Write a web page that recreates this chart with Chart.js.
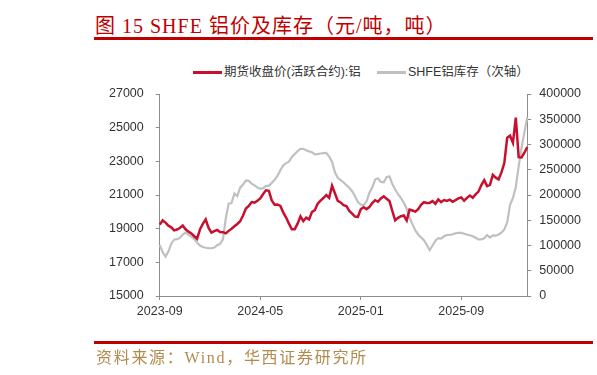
<!DOCTYPE html>
<html>
<head>
<meta charset="utf-8">
<script src="https://cdn.jsdelivr.net/npm/chart.js@4.4.0/dist/chart.umd.min.js"></script>
<style>
  body { margin: 0; width: 597px; height: 375px; position: relative; background: #fff; overflow: hidden; }
  #title { position: absolute; left: 95px; top: 10px; font-size: 20px; font-family: "Liberation Serif", "Noto Sans CJK SC"; color: #c00000; white-space: nowrap; letter-spacing: 1px; }
  .rule { position: absolute; left: 94px; width: 499px; background: #c00000; }
  .leg { position: absolute; top: 64px; height: 16px; line-height: 16px; font-size: 12.5px; font-family: "Liberation Sans", "Noto Sans CJK SC"; color: #333; white-space: nowrap; }
  .leg i { display: inline-block; width: 29px; height: 2.5px; vertical-align: middle; margin-right: 2px; }
  #source { position: absolute; left: 96px; top: 344px; font-size: 16px; font-family: "Liberation Serif", "Noto Sans CJK SC"; color: #b38a4d; letter-spacing: 1.7px; white-space: nowrap; }
  #chart { position: absolute; left: 0; top: 0; }
</style>
</head>
<body>
<div id="title">图 15 SHFE 铝价及库存（元/吨，吨）</div>
<div class="rule" style="top:36.5px;height:3px"></div>
<div class="leg" style="left:193px"><i style="background:#c8102e"></i>期货收盘价(活跃合约):铝</div>
<div class="leg" style="left:377px"><i style="background:#c0c0c0"></i>SHFE铝库存（次轴）</div>
<canvas id="chart" width="597" height="375"></canvas>
<div class="rule" style="top:341px;height:2.5px"></div>
<div id="source">资料来源：Wind，华西证券研究所</div>
<script>
// weekly readings, first week starts 2023-09-01
const startDate = "2023-09-01";
const tickMonths = ["2023-09", "2024-05", "2025-01", "2025-09"];
const leftTicks = [15000, 17000, 19000, 21000, 23000, 25000, 27000];
const rightTicks = [0, 50000, 100000, 150000, 200000, 250000, 300000, 350000, 400000];

// 期货收盘价(活跃合约):铝, 元/吨
const price = [
  19240, 19500, 19360, 19180, 19080, 18900, 18950, 19040, 19180, 18960,
  18820, 18720, 18550, 18400, 18950, 19280, 19550, 19040, 18760, 18850,
  18920, 18800, 18790, 18720, 18870, 19000, 19140, 19280, 19440, 19780,
  20200, 20350, 20580, 20550, 20660, 20800, 21060, 21280, 21250, 20680,
  20420, 20440, 20350, 19970, 19660, 19300, 18960, 18960, 19300, 19730,
  19450, 19650, 19550, 19990, 20100, 20480, 20670, 20820, 21000, 20830,
  21550, 21100, 20650, 20560, 20400, 20350, 20050, 19890, 19720, 19700,
  20150, 20270, 20160, 20280, 20520, 20690, 20600, 20790, 20920, 20780,
  20640, 20050, 19500, 19640, 19740, 19780, 19480, 20130, 20080, 20010,
  20160, 20420, 20570, 20530, 20530, 20640, 20480, 20740, 20580, 20700,
  20650, 20720, 20600, 20700, 20800, 20850, 20660, 20830, 20970, 20840,
  21040, 21200, 21590, 21880, 21530, 21600, 22200, 22030, 21930, 22340,
  22900, 24400, 24520, 24100, 25600, 23250, 23230, 23510, 23850
];

// SHFE铝库存, 吨 (secondary axis)
const stock = [
  101000, 87000, 78000, 88000, 103500, 111500, 112500, 115000, 121800, 125500,
  121700, 117600, 112700, 106000, 100000, 97000, 95500, 94700, 94600, 96000,
  100600, 103400, 112000, 154000, 183000, 184000, 203000, 198000, 214600, 220700,
  229000, 228000, 222500, 219000, 215000, 212400, 213500, 218000, 218200, 224000,
  230000, 238000, 249000, 258600, 263200, 266000, 275200, 281000, 286600, 291500,
  291500, 288700, 286300, 284700, 280300, 281000, 282200, 282800, 283200, 276000,
  266000, 245000, 234000, 229300, 225300, 219500, 214300, 207500, 197500, 186000,
  181000, 180000, 187000, 204000, 214600, 230500, 233000, 226000, 225000, 235500,
  237000, 221500, 211000, 201500, 194000, 184500, 172800, 155000, 142400, 130000,
  121800, 116000, 110600, 101000, 91000, 100000, 109500, 114300, 113500, 118200,
  120800, 121200, 122200, 123900, 125200, 125100, 123400, 121600, 120300, 118400,
  115200, 112000, 112000, 114300, 120800, 115800, 120000, 119400, 121800, 125300,
  132000, 145600, 180800, 194000, 216000, 257000, 293000, 324500, 353500
];

let labels = [];
let start = new Date(startDate + "T00:00:00Z");
for (let i = 0; i < price.length; i++) {
  let d = new Date(start.getTime() + i * 7 * 86400000);
  labels.push(d.toISOString().slice(0, 10));
}
let tickIdx = tickMonths.map(m => labels.findIndex(l => l.startsWith(m)));

let axisColor = "#8c8c8c";
let tickFont = { size: 12.5, family: "Liberation Sans" };

new Chart(document.getElementById("chart"), {
  type: "line",
  data: {
    labels: labels,
    datasets: [
      {
        label: "期货收盘价(活跃合约):铝",
        data: price,
        yAxisID: "y",
        borderColor: "#c8102e",
        backgroundColor: "#c8102e",
        borderWidth: 2.5,
        pointRadius: 0,
        tension: 0,
      },
      {
        label: "SHFE铝库存（次轴）",
        data: stock,
        yAxisID: "y2",
        borderColor: "#c0c0c0",
        backgroundColor: "#c0c0c0",
        borderWidth: 2.2,
        pointRadius: 0,
        tension: 0,
      },
    ],
  },
  options: {
    responsive: false,
    animation: false,
    devicePixelRatio: 1,
    layout: { padding: { left: 97, right: 8, top: 94, bottom: 52 } },
    plugins: { legend: { display: false }, tooltip: { enabled: false } },
    scales: {
      x: {
        grid: { drawOnChartArea: false, tickLength: 4, color: axisColor },
        border: { color: axisColor },
        afterBuildTicks: axis => { axis.ticks = tickIdx.map(i => ({ value: i })); },
        ticks: {
          autoSkip: false,
          maxRotation: 0,
          padding: 4,
          color: "#333",
          font: tickFont,
          callback: value => labels[value].slice(0, 7),
        },
      },
      y: {
        position: "left",
        min: leftTicks[0],
        max: leftTicks[leftTicks.length - 1],
        grid: { drawOnChartArea: false, tickLength: 4, color: axisColor },
        border: { color: axisColor },
        ticks: { stepSize: leftTicks[1] - leftTicks[0], padding: 12, color: "#333", font: tickFont, callback: v => String(v) },
      },
      y2: {
        position: "right",
        min: rightTicks[0],
        max: rightTicks[rightTicks.length - 1],
        grid: { drawOnChartArea: false, tickLength: 4, color: axisColor },
        border: { color: axisColor },
        ticks: { stepSize: rightTicks[1] - rightTicks[0], padding: 8, color: "#333", font: tickFont, callback: v => String(v) },
      },
    },
  },
});
</script>
</body>
</html>
